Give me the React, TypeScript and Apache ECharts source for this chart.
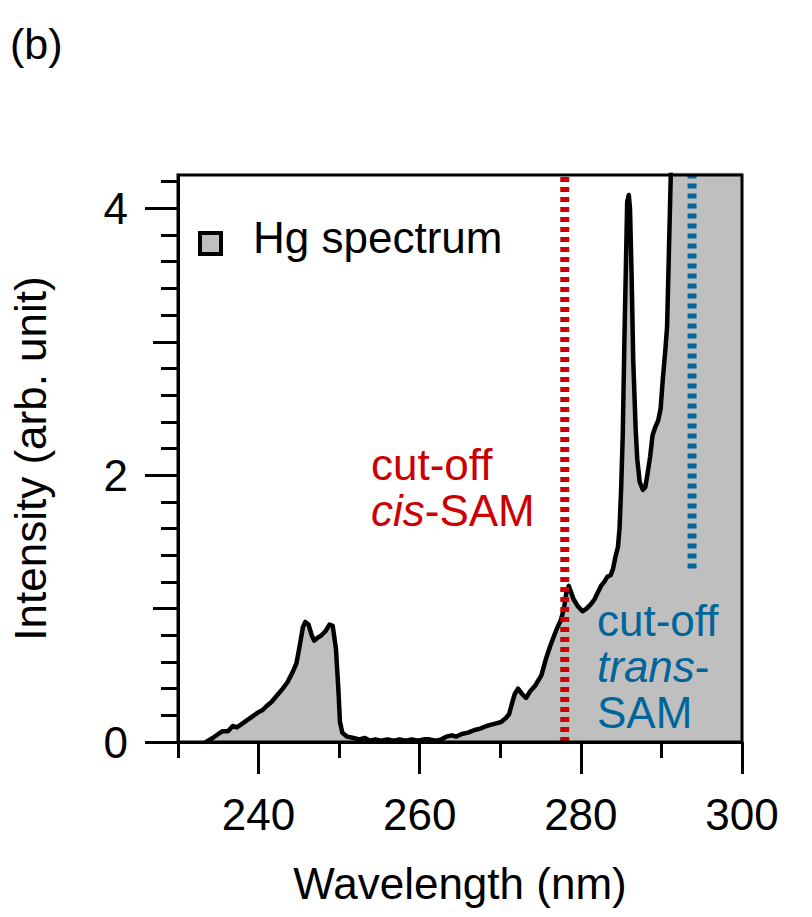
import React, { useEffect, useRef } from "react";
import * as echarts from "echarts";

// Hg lamp spectrum
const wavelengthNm = [
  233.5, 234.3, 235.0, 235.5, 236.2, 236.8, 237.3, 237.8, 238.5, 239.2, 239.9, 240.5, 241.0, 241.6,
  242.3, 243.0, 243.6, 244.2, 244.7, 245.1, 245.5, 245.8, 246.2, 246.6, 246.9, 247.3, 247.8, 248.3,
  248.8, 249.2, 249.6, 249.9, 250.1, 250.4, 251.0, 251.8, 252.5, 253.2, 253.8, 254.5, 255.2, 256.0,
  256.8, 257.5, 258.3, 259.0, 259.8, 260.5, 261.2, 262.0, 262.7, 263.3, 264.0, 264.5, 265.2, 266.0,
  266.8, 267.5, 268.3, 268.9, 269.5, 270.1, 270.7, 271.1, 271.5, 271.8, 272.2, 272.7, 273.2, 273.7,
  274.3, 275.1, 275.7, 276.2, 276.7, 277.1, 277.5, 277.9, 278.2, 278.5, 278.8, 279.1, 279.6, 280.2,
  280.7, 281.2, 281.7, 282.1, 282.5, 282.9, 283.3, 283.7, 284.0, 284.3, 284.6, 284.8, 285.0, 285.2,
  285.4, 285.6, 285.75, 285.95, 286.1, 286.3, 286.5, 286.8, 287.0, 287.3, 287.7, 288.0, 288.3, 288.6,
  288.9, 289.3, 289.6, 289.9, 290.2, 290.5, 290.7, 290.9, 291.1, 291.3, 291.6, 292.5, 300.0,
];
const intensityArb = [
  0.0, 0.03, 0.06, 0.08, 0.08, 0.12, 0.11, 0.13, 0.16, 0.19, 0.22, 0.24, 0.27, 0.3,
  0.35, 0.4, 0.45, 0.52, 0.59, 0.72, 0.86, 0.9, 0.88, 0.8, 0.76, 0.78, 0.8, 0.83,
  0.88, 0.87, 0.7, 0.4, 0.15, 0.07, 0.04, 0.03, 0.02, 0.03, 0.01, 0.02, 0.01, 0.02,
  0.01, 0.02, 0.01, 0.02, 0.01, 0.02, 0.02, 0.01, 0.02, 0.04, 0.05, 0.04, 0.06, 0.07,
  0.09, 0.1, 0.12, 0.13, 0.14, 0.15, 0.18, 0.21, 0.3, 0.36, 0.4, 0.36, 0.33, 0.38,
  0.42, 0.5, 0.63, 0.72, 0.8, 0.86, 0.91, 1.0, 1.12, 1.17, 1.12, 1.07, 1.02, 0.98,
  1.0, 1.03, 1.07, 1.12, 1.17, 1.2, 1.24, 1.25, 1.3, 1.39, 1.46, 1.6, 1.9, 2.3,
  3.0, 3.6, 4.05, 4.1, 4.0, 3.5, 2.86, 2.35, 2.12, 1.95, 1.89, 1.91, 2.02, 2.14,
  2.3, 2.37, 2.41, 2.5, 2.74, 2.95, 3.11, 3.6, 4.1, 4.6, 5.5, 8.0, 10.0,
];

// cut-off markers
const cisCutoffNm = 278.0;
const cisCutoffRange = [0, 4.25];
const transCutoffNm = 293.8;
const transCutoffRange = [1.3, 4.25];

// axes
const xRange = [230, 300];
const yRange = [0, 4.25];
const xMajorTicks = [240, 260, 280, 300];
const xMinorTicks = [230, 250, 270, 290];
const yMajorTicks = [0, 2, 4];
const yMidTicks = [1, 3];
const yMinorTicks = [
  0.2, 0.4, 0.6, 0.8, 1.2, 1.4, 1.6, 1.8, 2.2, 2.4, 2.6, 2.8, 3.2, 3.4, 3.6, 3.8, 4.2,
];

const FONT = '"Liberation Sans", Arial, Helvetica, sans-serif';
const RED = "#cc0000";
const BLUE = "#006699";
const AX = { color: "#000", width: 3 };
const FS = 44;

function xAxisDef(ticks: number[], len: number, main: boolean) {
  return {
    type: "value",
    min: xRange[0],
    max: xRange[1],
    position: "bottom",
    z: 10,
    axisLine: { show: main, onZero: false, lineStyle: AX },
    axisTick: { show: true, customValues: ticks, length: len, lineStyle: AX },
    axisLabel: main
      ? { show: true, customValues: ticks, margin: 50, fontSize: FS, color: "#000", fontFamily: FONT }
      : { show: false },
    splitLine: { show: false },
    ...(main
      ? {
          name: "Wavelength (nm)",
          nameLocation: "middle",
          nameGap: 119,
          nameTextStyle: { fontSize: FS, color: "#000", fontFamily: FONT },
        }
      : {}),
  };
}

function yAxisDef(ticks: number[], len: number, main: boolean) {
  return {
    type: "value",
    min: yRange[0],
    max: yRange[1],
    position: "left",
    z: 10,
    axisLine: { show: main, onZero: false, lineStyle: AX },
    axisTick: { show: true, customValues: ticks, length: len, lineStyle: AX },
    axisLabel: main
      ? { show: true, customValues: ticks, margin: 50, fontSize: FS, color: "#000", fontFamily: FONT }
      : { show: false },
    splitLine: { show: false },
    ...(main
      ? {
          name: "Intensity (arb. unit)",
          nameLocation: "middle",
          nameGap: 126,
          nameRotate: 90,
          nameTextStyle: { fontSize: FS, color: "#000", fontFamily: FONT },
        }
      : {}),
  };
}

export default function App() {
  const ref = useRef<HTMLDivElement>(null);
  useEffect(() => {
    if (!ref.current) return;
    const chart = echarts.init(ref.current, null, { renderer: "svg" });
    const spectrum = wavelengthNm.map((w, i) => [w, intensityArb[i]]);
    chart.setOption({
      animation: false,
      backgroundColor: "#fff",
      grid: {
        left: 175,
        top: 175,
        width: 567,
        height: 567,
        show: true,
        borderColor: "#000",
        borderWidth: 3,
        backgroundColor: "rgba(0,0,0,0)",
        z: 10,
      },
      xAxis: [xAxisDef(xMajorTicks, 32, true), xAxisDef(xMinorTicks, 16, false)],
      yAxis: [
        yAxisDef(yMajorTicks, 33, true),
        yAxisDef(yMidTicks, 25, false),
        yAxisDef(yMinorTicks, 17, false),
      ],
      series: [
        {
          type: "line",
          name: "Hg spectrum",
          data: spectrum,
          symbol: "none",
          showSymbol: false,
          clip: true,
          z: 3,
          lineStyle: { color: "#000", width: 4.5, join: "round", cap: "round" },
          itemStyle: { color: "#bfbfbf" },
          areaStyle: { color: "#bfbfbf", opacity: 1 },
        },
        {
          type: "line",
          name: "cut-off cis-SAM",
          data: cisCutoffRange.map((v) => [cisCutoffNm, v]),
          symbol: "none",
          z: 4,
          silent: true,
          lineStyle: { color: RED, width: 9, type: [5, 5] },
        },
        {
          type: "line",
          name: "cut-off trans-SAM",
          data: transCutoffRange.map((v) => [transCutoffNm, v]),
          symbol: "none",
          z: 4,
          silent: true,
          lineStyle: { color: BLUE, width: 9, type: [5, 5] },
        },
      ],
      graphic: [
        {
          type: "text",
          x: 10,
          y: 44,
          style: { text: "(b)", fontSize: 43, fontFamily: FONT, fill: "#000", verticalAlign: "middle" },
        },
        {
          type: "rect",
          shape: { x: 200, y: 233, width: 21, height: 21 },
          style: { fill: "#bfbfbf", stroke: "#000", lineWidth: 4 },
          z: 20,
        },
        {
          type: "text",
          x: 253,
          y: 237,
          style: { text: "Hg spectrum", fontSize: FS, fontFamily: FONT, fill: "#000", verticalAlign: "middle" },
          z: 20,
        },
        {
          type: "text",
          x: 371,
          y: 441,
          z: 20,
          style: {
            text: "{a|cut-off}\n{i|cis}{a|-SAM}",
            verticalAlign: "top",
            fill: RED,
            fontSize: FS,
            fontFamily: FONT,
            lineHeight: 46,
            rich: {
              a: { fontSize: FS, fontFamily: FONT, fill: RED, lineHeight: 46 },
              i: { fontSize: FS, fontFamily: FONT, fill: RED, fontStyle: "italic", lineHeight: 46 },
            },
          },
        },
        {
          type: "text",
          x: 597,
          y: 597,
          z: 20,
          style: {
            text: "{a|cut-off}\n{i|trans}{a|-}\n{a|SAM}",
            verticalAlign: "top",
            fill: BLUE,
            fontSize: FS,
            fontFamily: FONT,
            lineHeight: 46,
            rich: {
              a: { fontSize: FS, fontFamily: FONT, fill: BLUE, lineHeight: 46 },
              i: { fontSize: FS, fontFamily: FONT, fill: BLUE, fontStyle: "italic", lineHeight: 46 },
            },
          },
        },
      ],
    });
    return () => chart.dispose();
  }, []);
  return (
    <div
      ref={ref}
      style={{ position: "absolute", left: 0, top: 0, width: "812px", height: "917px" }}
    />
  );
}
